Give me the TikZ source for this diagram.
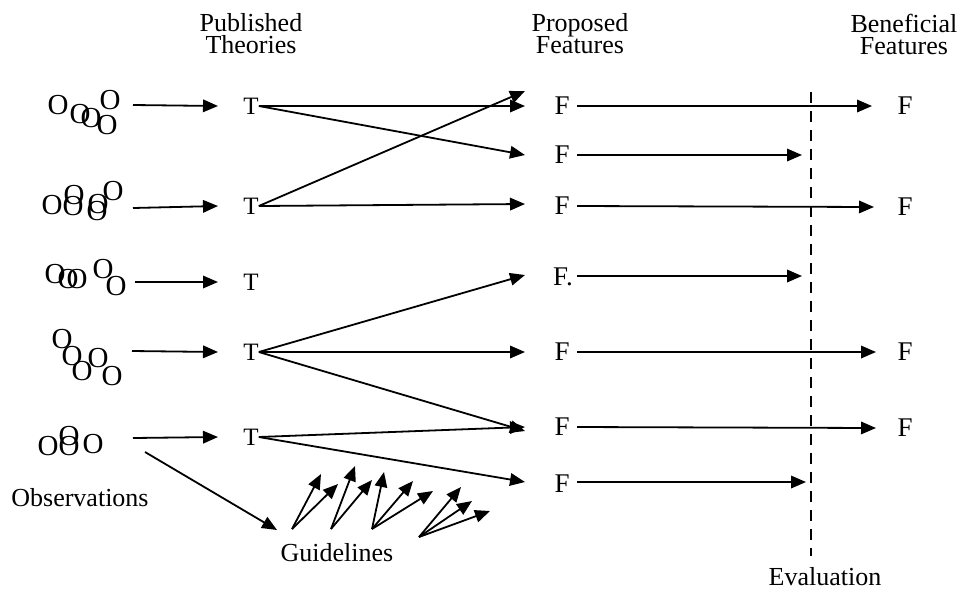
\documentclass[tikz,border=0pt]{standalone}
\usepackage{fontspec}
\setmainfont{Liberation Serif}
\usetikzlibrary{arrows.meta}
\newcommand\oat[2]{\makebox[0pt][l]{\hspace*{#1pt}\raisebox{#2pt}{O}}}
\begin{document}
\begin{tikzpicture}[x=1pt,y=-1pt,
  arr/.style={line width=1.8pt,-{Triangle[length=15pt,width=12.5pt]}},
  txt/.style={font=\fontsize{26}{26}\selectfont,inner sep=0pt,align=center},
  lbl/.style={font=\fontsize{26}{26}\selectfont,inner sep=0pt},
  tnode/.style={font=\fontsize{25}{25}\selectfont,inner sep=0pt},
  fnode/.style={font=\fontsize{27}{27}\selectfont,inner sep=0pt},
  onode/.style={font=\fontsize{29}{29}\selectfont,inner sep=0pt,anchor=base west},
  evalline/.style={line width=1.4pt,dash pattern=on 11pt off 8pt}]
\useasboundingbox (0,0) rectangle (965,590);
% headers
\node[txt] (hpub) at (251,34) {Published\\[-4pt]Theories};
\node[txt] (hprop) at (580,34) {Proposed\\[-4pt]Features};
\node[txt] (hben) at (904,34) {Beneficial\\[-4pt]Features};
% observation clusters
\node[onode] (obs1) at (47.5,134) {\oat{0}{20}\oat{22}{11}\oat{33}{7}\oat{52}{25}\oat{49}{0}\hspace*{70pt}};
\node[onode] (obs2) at (41.5,220) {\oat{0}{6}\oat{22}{16}\oat{21}{5}\oat{46}{7}\oat{45}{0}\oat{61}{20}\hspace*{82pt}};
\node[onode] (obs3) at (44.5,295) {\oat{0}{12}\oat{13}{7}\oat{22}{7}\oat{48}{17}\oat{61}{0}\hspace*{82pt}};
\node[onode] (obs4) at (51.5,385) {\oat{0}{37}\oat{10}{20}\oat{20}{5}\oat{36}{18}\oat{50}{0}\hspace*{71pt}};
\node[onode] (obs5) at (37.5,455) {\oat{0}{0}\oat{21}{10}\oat{21}{0}\oat{45}{2}\hspace*{66pt}};
\node[lbl] (obs) at (80,498) {Observations};
% cluster arrow starts
\coordinate (c1) at (133,105);
\coordinate (c2) at (133,208);
\coordinate (c3) at (135,282);
\coordinate (c4) at (132,351);
\coordinate (c5) at (133,438);
\coordinate (c5g) at (145,452);
% theories
\node[tnode] (t1) at (251,106) {T};
\node[tnode] (t2) at (251,206) {T};
\node[tnode] (t3) at (251,282) {T};
\node[tnode] (t4) at (251,352) {T};
\node[tnode] (t5) at (251,437) {T};
% proposed features
\node[fnode] (f1) at (562,106) {F};
\node[fnode] (f2) at (562,155) {F};
\node[fnode] (f3) at (562,206) {F};
\node[fnode,anchor=west] (f4) at (553,277) {F.};
\node[fnode] (f5) at (562,352) {F};
\node[fnode] (f6) at (562,427) {F};
\node[fnode] (f7) at (562,484) {F};
% beneficial features
\node[fnode] (b1) at (905,106) {F};
\node[fnode] (b2) at (905,207) {F};
\node[fnode] (b3) at (905,352) {F};
\node[fnode] (b4) at (905,428) {F};
% evaluation
\coordinate (etop) at (811,92);
\coordinate (ebot) at (811,556);
\draw[evalline] (etop) -- (ebot);
\node[lbl] (eval) at (825,577) {Evaluation};
% obs -> T
\draw[arr] (c1) -- (t1.west -| 218,0);
\draw[arr] (c2) -- (t2.west -| 218,0);
\draw[arr] (c3) -- (t3.west -| 218,0);
\draw[arr] (c4) -- (t4.west -| 218,0);
\draw[arr] (c5) -- (t5.west -| 218,0);
% T -> F
\draw[arr] (t1.east) -- (f1.west -| 525,0);
\draw[arr] (t1.east) -- (f2.west -| 525,0);
\draw[arr] (t2.east) -- ([yshift=15pt]f1.west -| 525,0);
\draw[arr] (t2.east) -- ([yshift=2pt]f3.west -| 525,0);
\draw[arr] (t4.east) -- ([yshift=2pt]f4.west -| 525,0);
\draw[arr] (t4.east) -- (f5.west -| 525,0);
\draw[arr] (t4.east) -- ([yshift=-4pt]f6.west -| 525,0);
\draw[arr] (t5.east) -- ([yshift=0pt]f6.west -| 525,0);
\draw[arr] (t5.east) -- ([yshift=2pt]f7.west -| 525,0);
% F -> beneficial / evaluation
\draw[arr] (f1.east -| 577,0) -- (b1.west -| 872,0);
\draw[arr] (f2.east -| 577,0) -- (f2.east -| 802,0);
\draw[arr] (f3.east -| 577,0) -- (b2.west -| 874,0);
\draw[arr] ([yshift=1pt]f4.east -| 577,0) -- ([yshift=1pt]f4.east -| 802,0);
\draw[arr] (f5.east -| 577,0) -- (b3.west -| 876,0);
\draw[arr] (f6.east -| 577,0) -- (b4.west -| 876,0);
\draw[arr] ([yshift=2pt]f7.east -| 577,0) -- ([yshift=2pt]f7.east -| 806,0);
% observations -> guidelines
\node[lbl] (guide) at (337,553) {Guidelines};
\draw[arr] (c5g) -- (277,530);
% guideline arrows
\coordinate (g1) at (292,529);
\coordinate (g2) at (331,529);
\coordinate (g3) at (372,529);
\coordinate (g4) at (419,537);
\coordinate (g1a) at (321,474);
\coordinate (g1b) at (338,484);
\coordinate (g2a) at (355,466);
\coordinate (g2b) at (372,480);
\coordinate (g3a) at (384,472);
\coordinate (g3b) at (413,481);
\coordinate (g3c) at (433,491);
\coordinate (g4a) at (461,487);
\coordinate (g4b) at (472,501);
\coordinate (g4c) at (490,511);
\draw[arr] (g1) -- (g1a);
\draw[arr] (g1) -- (g1b);
\draw[arr] (g2) -- (g2a);
\draw[arr] (g2) -- (g2b);
\draw[arr] (g3) -- (g3a);
\draw[arr] (g3) -- (g3b);
\draw[arr] (g3) -- (g3c);
\draw[arr] (g4) -- (g4a);
\draw[arr] (g4) -- (g4b);
\draw[arr] (g4) -- (g4c);
\end{tikzpicture}
\end{document}
